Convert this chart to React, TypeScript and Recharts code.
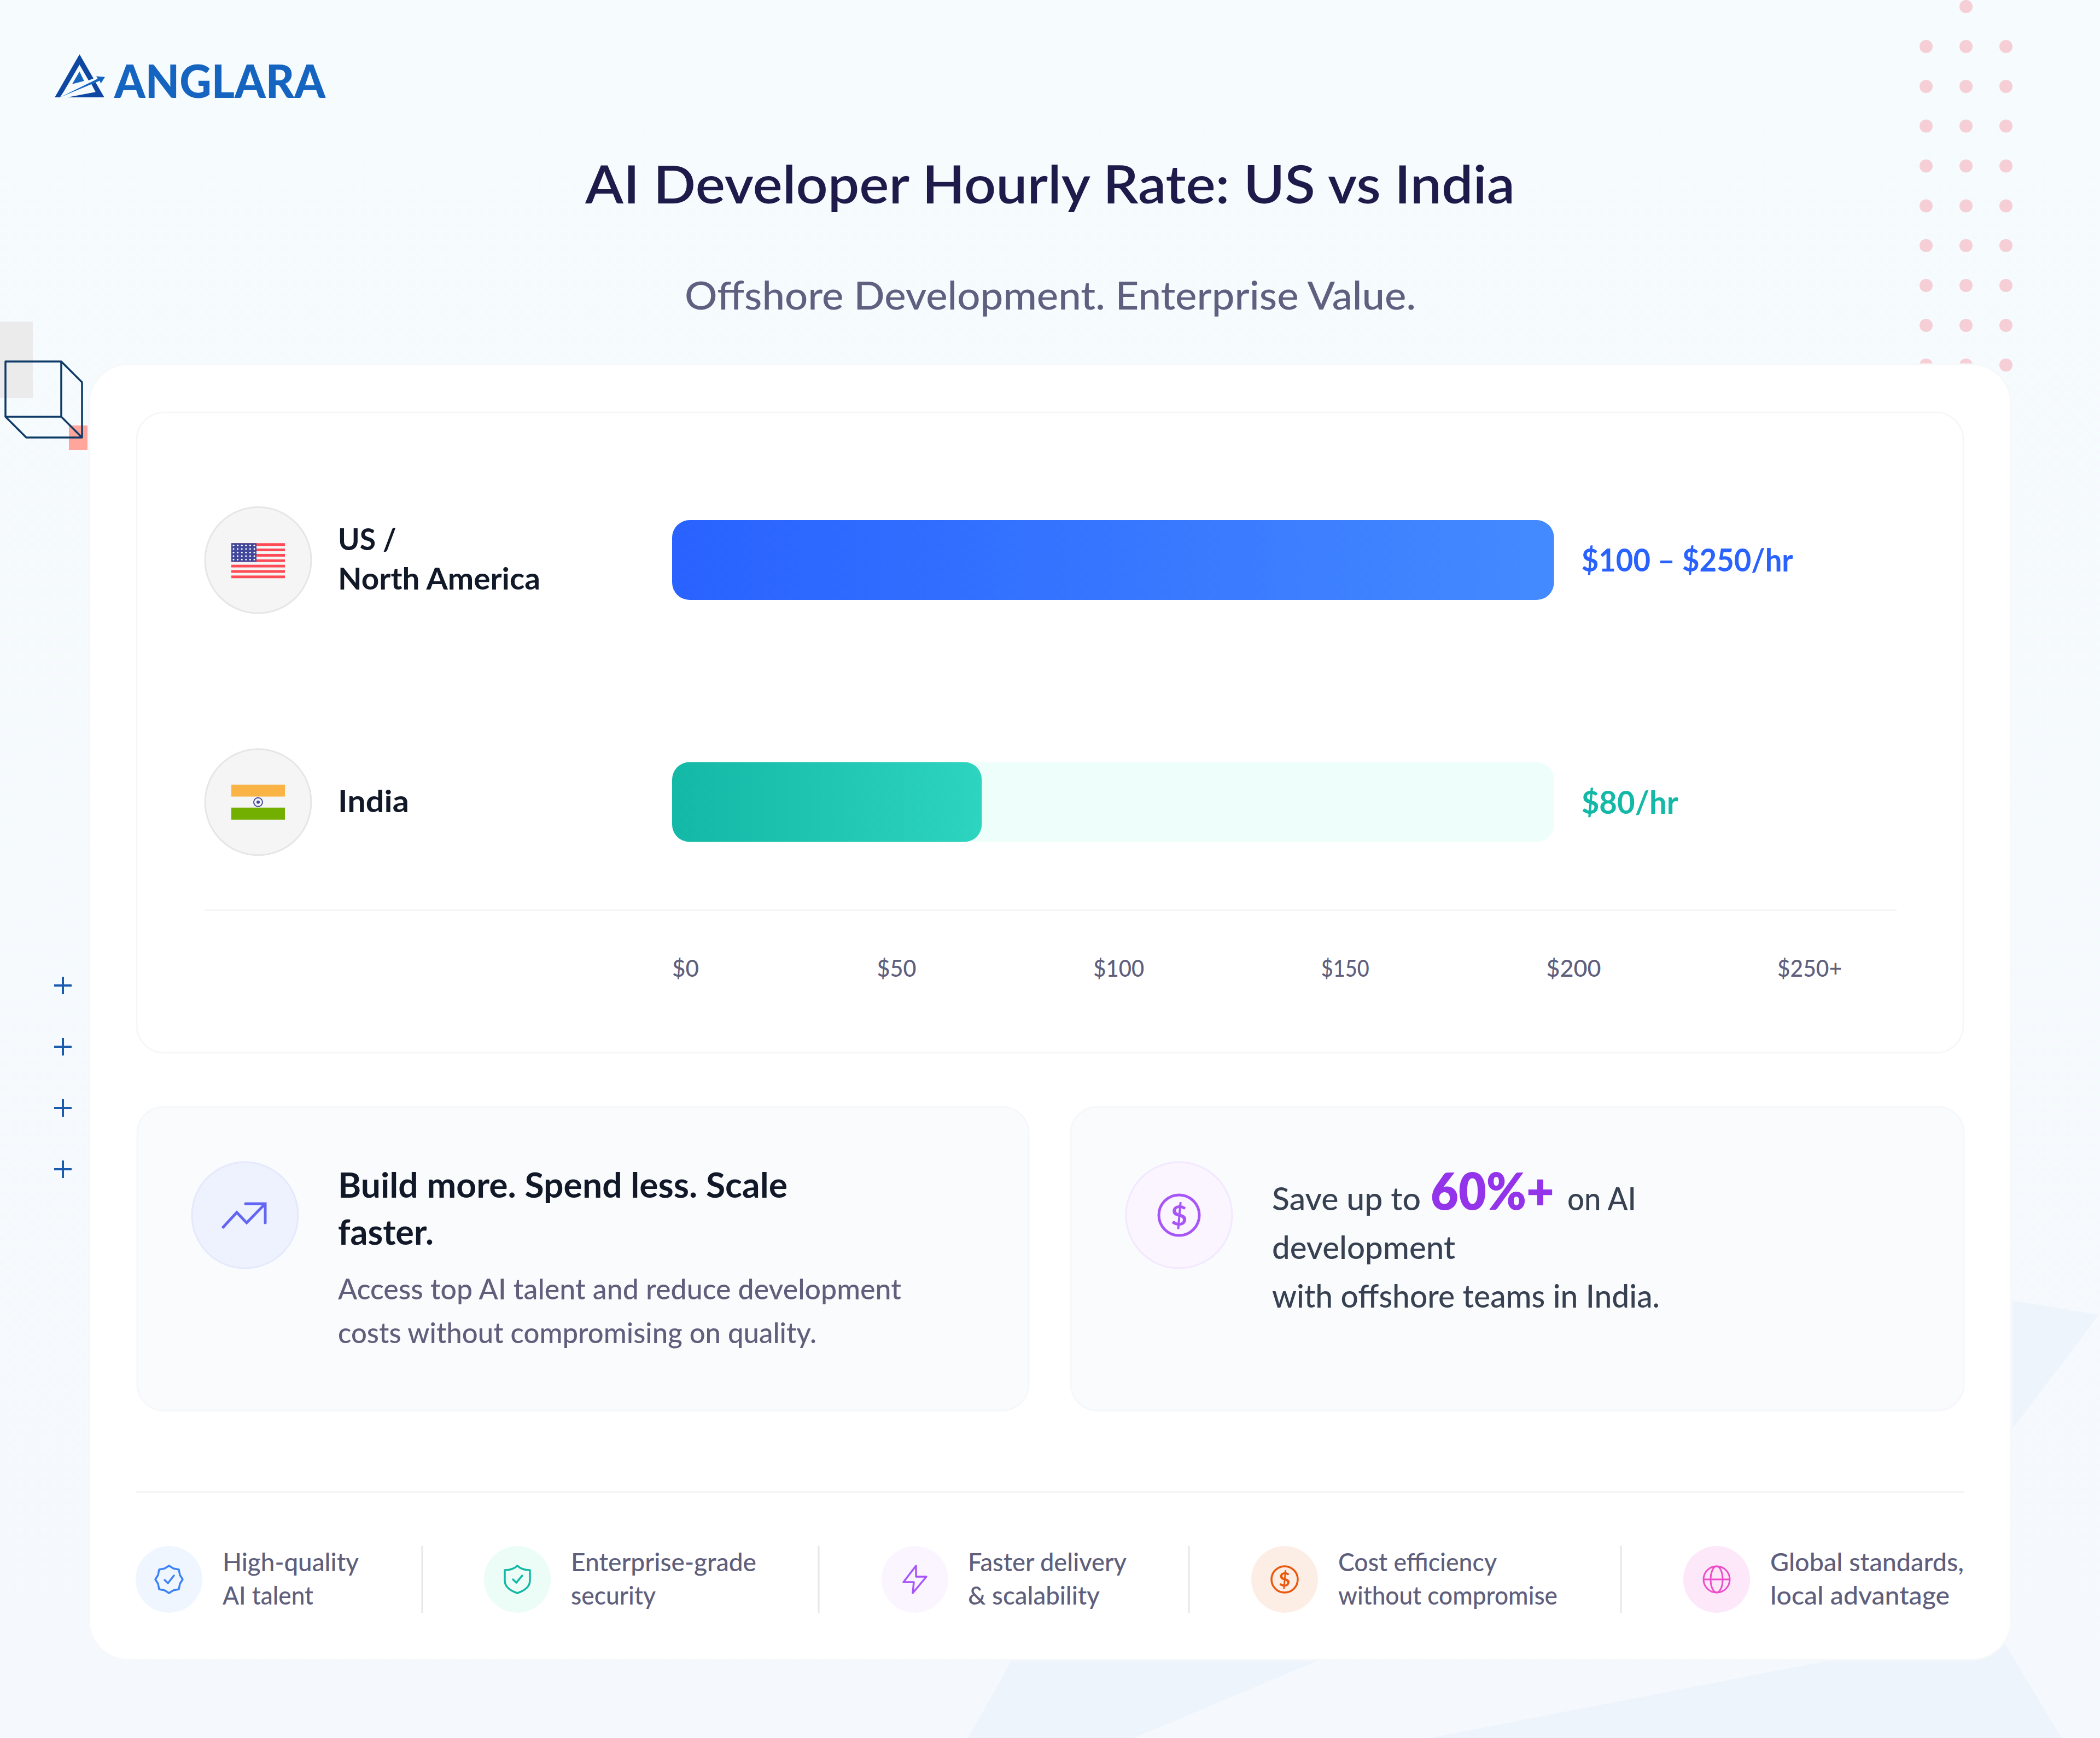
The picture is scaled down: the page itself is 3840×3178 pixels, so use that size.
import React from "react";
import { BarChart, Bar, XAxis, YAxis, Cell, LabelList } from "recharts";

const categories = ["US / North America", "India"];
const categoryLines = [["US /", "North America"], ["India"]];
// bar ends as read against the drawn axis, the pale track stops where the US bar stops
const trackValues = [198.8, 198.8];
const rateValues = [198.8, 69.8];
const rateLabels = ["$100 – $250/hr", "$80/hr"];
const tickValues = [0, 50, 100, 150, 200, 250];
const tickLabels = ["$0", "$50", "$100", "$150", "$200", "$250+"];

const rows = categories.map((category, i) => ({
  category,
  track: trackValues[i],
  rate: rateValues[i],
  rateLabel: rateLabels[i],
}));

const FONT = "Lato, 'Noto Sans', sans-serif";
const W = 3840;
const H = 3178;
const CHART_LEFT = 250;
const CHART_TOP = 754;
const CHART_W = 3340;
const CHART_H = 1171;

// tick labels sit in a space-between row in the original, so not quite evenly spaced
const tickNudge = [0, -31, -41, -30, -24, -7];
const tickWidths = [49, 72, 93, 88, 100, 118];
const rateColors = ["#2962ff", "#14b8a6"];
const rateWidths = [387, 177];
const lineWidths = [[107, 370], [130]];

function T({ x, y, w, size, fill, weight = 400, children }: any) {
  return (
    <text
      x={x}
      y={y}
      fontSize={size}
      fill={fill}
      fontWeight={weight}
      fontFamily={FONT}
      textLength={w}
      lengthAdjust="spacingAndGlyphs"
    >
      {children}
    </text>
  );
}

function UsFlag() {
  const stripes = [0, 1, 2, 3, 4, 5, 6];
  const stars = [];
  for (let r = 0; r < 5; r++) {
    for (let c = 0; c < 6; c++) {
      stars.push(<circle key={r + "-" + c} cx={4 + c * 7.6} cy={4 + r * 6.5} r={1.5} fill="#fff" />);
    }
  }
  return (
    <g transform="translate(-49,-31)">
      <rect width={98} height={64} fill="#f5f5f5" />
      {stripes.map((s) => (
        <rect key={s} y={s * 9.85} width={98} height={4.9} fill="#ff4b55" />
      ))}
      <rect width={46} height={34} fill="#41479b" />
      {stars}
    </g>
  );
}

function IndiaFlag() {
  return (
    <g transform="translate(-49,-32)">
      <rect width={98} height={22} fill="#fab446" />
      <rect y={22} width={98} height={20} fill="#f5f5f5" />
      <rect y={42} width={98} height={22} fill="#73af00" />
      <circle cx={49} cy={32} r={8} fill="none" stroke="#41479b" strokeWidth={2} />
      <circle cx={49} cy={32} r={3} fill="#41479b" />
    </g>
  );
}

function renderCategoryTick(props: any) {
  const { y, index } = props;
  const cx = 472 - CHART_LEFT;
  const textX = 618 - CHART_LEFT;
  const lines = categoryLines[index] || [];
  return (
    <g>
      <circle cx={cx} cy={y} r={97} fill="#f5f5f5" stroke="#e6e6e6" strokeWidth={3} />
      <g transform={`translate(${cx},${y})`}>{index === 0 ? <UsFlag /> : <IndiaFlag />}</g>
      {lines.map((line, i) => (
        <T
          key={line}
          x={textX}
          y={lines.length > 1 ? y - 18 + i * 72 : y + 18}
          w={lineWidths[index][i]}
          size={56}
          weight={700}
          fill="#111827"
        >
          {line}
        </T>
      ))}
    </g>
  );
}

function renderValueTick(props: any) {
  const { x, index } = props;
  return (
    <T x={x + tickNudge[index]} y={1786 - CHART_TOP} w={tickWidths[index]} size={43} weight={500} fill="#5f5f7c">
      {tickLabels[index]}
    </T>
  );
}

function renderRateLabel(props: any) {
  const { x, y, width, height, index } = props;
  return (
    <T
      x={x + width + 50}
      y={y + height / 2 + 21}
      w={rateWidths[index]}
      size={58}
      weight={700}
      fill={rateColors[index]}
    >
      {rateLabels[index]}
    </T>
  );
}

function RateChart() {
  return (
    <div style={{ position: "absolute", left: CHART_LEFT, top: CHART_TOP, width: CHART_W, height: CHART_H }}>
      <BarChart
        width={CHART_W}
        height={CHART_H}
        data={rows}
        layout="vertical"
        barSize={146}
        barGap={-146}
        margin={{ top: 49, right: 333, bottom: 137, left: 0 }}
      >
        <defs>
          <linearGradient id="usFill" x1="0" y1="0" x2="1" y2="0">
            <stop offset="0%" stopColor="#2962ff" />
            <stop offset="100%" stopColor="#448aff" />
          </linearGradient>
          <linearGradient id="indiaFill" x1="0" y1="0" x2="1" y2="0">
            <stop offset="0%" stopColor="#14b8a6" />
            <stop offset="100%" stopColor="#2dd4bf" />
          </linearGradient>
        </defs>
        <XAxis
          type="number"
          domain={[0, 250]}
          ticks={tickValues}
          interval={0}
          height={100}
          axisLine={false}
          tickLine={false}
          tick={renderValueTick}
        />
        <YAxis
          type="category"
          dataKey="category"
          width={979}
          axisLine={false}
          tickLine={false}
          tick={renderCategoryTick}
          interval={0}
        />
        <Bar dataKey="track" fill="#eefffb" radius={32} isAnimationActive={false}>
          <LabelList dataKey="rateLabel" content={renderRateLabel} />
        </Bar>
        <Bar dataKey="rate" radius={32} isAnimationActive={false}>
          <Cell fill="url(#usFill)" />
          <Cell fill="url(#indiaFill)" />
        </Bar>
      </BarChart>
    </div>
  );
}

const dotCols = [3522, 3595, 3668];
const dotRows = [85, 158, 230.5, 303.5, 376.5, 449, 522, 595, 667.5];
const plusRows = [1802, 1914, 2026, 2138];

function Logo() {
  return (
    <g>
      <g transform="scale(0.6378,0.574)">
        <path d="M228 173 L268 250 L254 256 L228 206 L182 293 L172 310 L157 310 Z" fill="#0d47a1" />
        <path d="M172 310 L280 251 L276 243 L301 245 L289 266 L286 257 Z" fill="#1565c0" />
        <path d="M262 268 L274 262 L299 310 L193 310 L274 293 Z" fill="#0d47a1" />
        <path d="M228 228 L241 258 L207 268 Z" fill="#1565c0" />
      </g>
      <T x={209} y={179} w={386} size={84} weight={900} fill="#1565c0">
        ANGLARA
      </T>
    </g>
  );
}

function Decor() {
  return (
    <g>
      <polygon points="3680,2378 3838,2404 3680,2613" fill="#eef4fc" />
      <polygon points="1853,3030 2425,3030 2074,3178 1770,3178" fill="#eef4fc" />
      <polygon points="3377,3030 3660,2995 3770,3178 2614,3178" fill="#eef4fc" />
      {dotRows.map((y) =>
        dotCols.map((x) => <circle key={x + "-" + y} cx={x} cy={y} r={12} fill="#f6cfd6" />),
      )}
      <circle cx={3595} cy={12} r={12} fill="#f6cfd6" />
      <rect x={0} y={588} width={60} height={140} fill="#ebebeb" />
      <rect x={126} y={778} width={34} height={45} fill="#ffa59b" />
      <path
        d="M10 661 H112 V762 H10 Z M112 661 L150 699 V800 H48 L10 762 M112 762 L150 800"
        fill="none"
        stroke="#0d3a66"
        strokeWidth={3.5}
        strokeLinejoin="round"
      />
      {plusRows.map((y) => (
        <path key={y} d={`M99 ${y} H131 M115 ${y - 16} V${y + 16}`} stroke="#1a5bb0" strokeWidth={4} />
      ))}
    </g>
  );
}

function FeatureCards() {
  return (
    <g>
      <rect x={251} y={2024} width={1630} height={555} rx={48} fill="#f9fbfd" stroke="#f5f7fa" strokeWidth={3} />
      <rect x={1958} y={2024} width={1633} height={555} rx={48} fill="#f9fbfd" stroke="#f5f7fa" strokeWidth={3} />

      <circle cx={448} cy={2222} r={97} fill="#eef2ff" stroke="#e4e9fb" strokeWidth={3} />
      <path
        d="M408 2244 L433 2217 L451 2236 L484 2202 M449 2201 H485 V2236"
        fill="none"
        stroke="#6366f1"
        strokeWidth={5}
        strokeLinecap="round"
      />
      <T x={618} y={2190} w={822} size={64} weight={700} fill="#111827">
        Build more. Spend less. Scale
      </T>
      <T x={618} y={2276} w={175} size={64} weight={700} fill="#111827">
        faster.
      </T>
      <T x={618} y={2376} w={1030} size={52} weight={500} fill="#5f5f7c">
        Access top AI talent and reduce development
      </T>
      <T x={618} y={2456} w={875} size={52} weight={500} fill="#5f5f7c">
        costs without compromising on quality.
      </T>

      <circle cx={2156} cy={2222} r={97} fill="#faf5ff" stroke="#f3e8ff" strokeWidth={3} />
      <circle cx={2156} cy={2222} r={37} fill="none" stroke="#a855f7" strokeWidth={5} />
      <text x={2156} y={2241} textAnchor="middle" fontSize={52} fontWeight={700} fontFamily={FONT} fill="#a855f7">
        $
      </text>
      <T x={2326} y={2213} w={272} size={58} weight={500} fill="#374151">
        Save up to
      </T>
      <T x={2616} y={2212} w={226} size={92} weight={800} fill="#9333ea">
        60%+
      </T>
      <T x={2866} y={2213} w={126} size={58} weight={500} fill="#374151">
        on AI
      </T>
      <T x={2326} y={2302} w={335} size={58} weight={500} fill="#374151">
        development
      </T>
      <T x={2326} y={2391} w={709} size={58} weight={500} fill="#374151">
        with offshore teams in India.
      </T>
    </g>
  );
}

const perks = [
  { cx: 309, tx: 407, bg: "#eff6ff", lines: ["High-quality", "AI talent"], w: [249, 166] },
  { cx: 946, tx: 1044, bg: "#ecfdf8", lines: ["Enterprise-grade", "security"], w: [339, 155] },
  { cx: 1673, tx: 1770, bg: "#faf5ff", lines: ["Faster delivery", "& scalability"], w: [290, 241] },
  { cx: 2349, tx: 2447, bg: "#fdeee5", lines: ["Cost efficiency", "without compromise"], w: [290, 401] },
  { cx: 3139, tx: 3237, bg: "#fde8f9", lines: ["Global standards,", "local advantage"], w: [354, 328] },
];
const perkDividers = [772, 1497, 2174, 2964];

function PerkIcon({ index }: { index: number }) {
  if (index === 0) {
    return (
      <g fill="none" stroke="#3b82f6" strokeWidth={3.5} strokeLinejoin="round" strokeLinecap="round">
        <path d="M0 -25 L8 -20 L18 -18 L20 -8 L25 0 L20 8 L18 18 L8 20 L0 25 L-8 20 L-18 18 L-20 8 L-25 0 L-20 -8 L-18 -18 L-8 -20 Z" />
        <path d="M-8 1 L-2 7 L9 -7" />
      </g>
    );
  }
  if (index === 1) {
    return (
      <g fill="none" stroke="#14b8a6" strokeWidth={3.5} strokeLinejoin="round" strokeLinecap="round">
        <path d="M0 -25 C6 -19 14 -17 23 -17 V2 C23 14 12 21 0 25 C-12 21 -23 14 -23 2 V-17 C-14 -17 -6 -19 0 -25 Z" />
        <path d="M-8 0 L-2 6 L9 -7" />
      </g>
    );
  }
  if (index === 2) {
    return (
      <path
        d="M2 -25 L-21 5 H-2 L-4 25 L21 -5 H2 Z"
        fill="none"
        stroke="#a855f7"
        strokeWidth={3.5}
        strokeLinejoin="round"
      />
    );
  }
  if (index === 3) {
    return (
      <g>
        <circle r={24} fill="none" stroke="#ea580c" strokeWidth={3.5} />
        <text y={13} textAnchor="middle" fontSize={36} fontWeight={700} fontFamily={FONT} fill="#ea580c">
          $
        </text>
      </g>
    );
  }
  return (
    <g fill="none" stroke="#ec4dcb" strokeWidth={3}>
      <circle r={24} />
      <ellipse rx={11} ry={24} />
      <path d="M-24 0 H24" />
    </g>
  );
}

function Perks() {
  return (
    <g>
      <rect x={248} y={2727} width={3344} height={3} fill="#f3f4f6" />
      {perkDividers.map((x) => (
        <rect key={x} x={x - 1.5} y={2827} width={3} height={122} fill="#e5e7eb" />
      ))}
      {perks.map((p, i) => (
        <g key={p.tx}>
          <circle cx={p.cx} cy={2888} r={61} fill={p.bg} />
          <g transform={`translate(${p.cx},2888)`}>
            <PerkIcon index={i} />
          </g>
          <T x={p.tx} y={2873} w={p.w[0]} size={46} weight={500} fill="#5f5f7c">
            {p.lines[0]}
          </T>
          <T x={p.tx} y={2934} w={p.w[1]} size={46} weight={500} fill="#5f5f7c">
            {p.lines[1]}
          </T>
        </g>
      ))}
    </g>
  );
}

export default function App() {
  return (
    <div style={{ position: "absolute", left: 0, top: 0, width: W, height: H, overflow: "hidden" }}>
      <svg width={W} height={H} style={{ position: "absolute", left: 0, top: 0 }}>
        <defs>
          <linearGradient id="pageBg" x1="0" y1="0" x2="0" y2="1">
            <stop offset="0%" stopColor="#f6fbfe" />
            <stop offset="100%" stopColor="#f5f9fd" />
          </linearGradient>
        </defs>
        <rect width={W} height={H} fill="url(#pageBg)" />
        <Decor />
        <Logo />
        <T x={1070} y={372} w={1700} size={97} weight={600} fill="#1e1b4b">
          AI Developer Hourly Rate: US vs India
        </T>
        <T x={1252} y={566} w={1337} size={71} weight={500} fill="#5f6080">
          Offshore Development. Enterprise Value.
        </T>
        <rect x={163} y={666} width={3514} height={2369} rx={72} fill="#fff" stroke="#f6f8fa" strokeWidth={3} />
        <rect x={250} y={754} width={3340} height={1171} rx={50} fill="#fff" stroke="#f6f7f9" strokeWidth={3} />
        <rect x={374} y={1663} width={3094} height={3} fill="#f3f4f6" />
        <FeatureCards />
        <Perks />
      </svg>
      <RateChart />
    </div>
  );
}
